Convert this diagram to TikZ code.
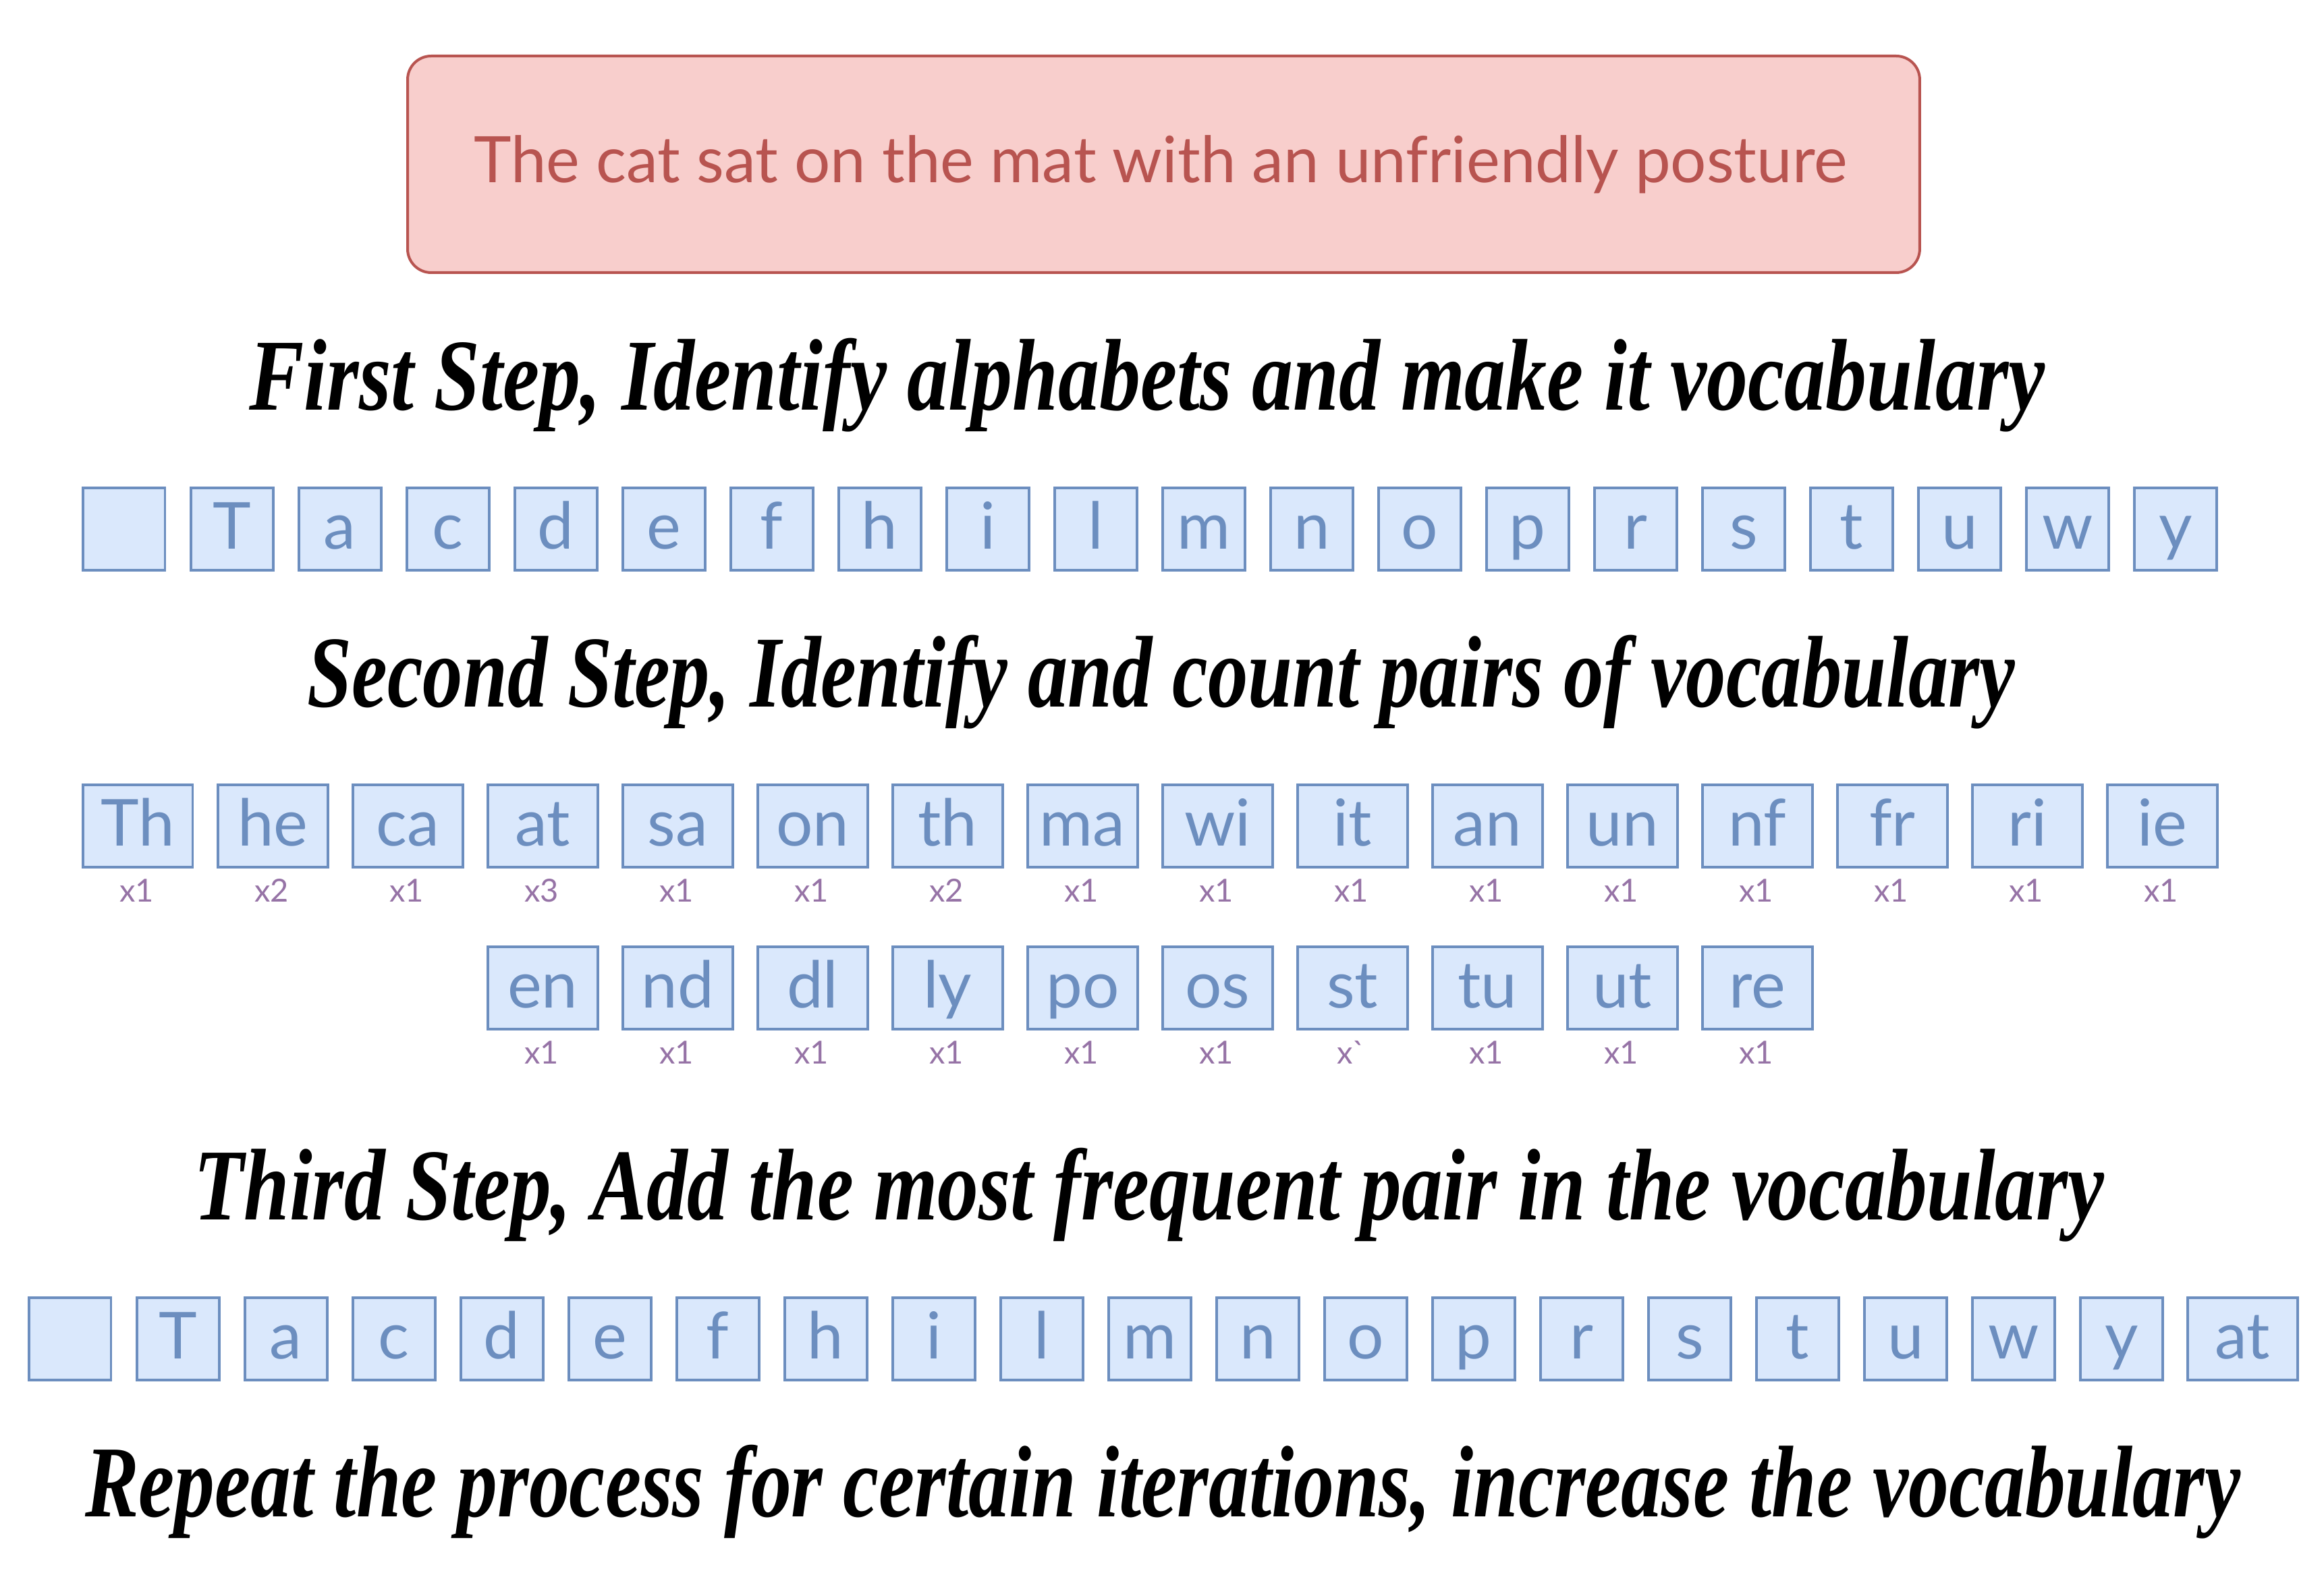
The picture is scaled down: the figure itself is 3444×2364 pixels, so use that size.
\documentclass[tikz,border=0pt]{standalone}
\usepackage{fontspec}
\setmainfont{Lato}
\newfontfamily\headf{Liberation Serif}
\usepackage{graphicx}
\definecolor{rfill}{HTML}{F8CECC}
\definecolor{rdraw}{HTML}{B85450}
\definecolor{bfill}{HTML}{DAE8FC}
\definecolor{bdraw}{HTML}{6C8EBF}
\definecolor{ptxt}{HTML}{9673A6}
\begin{document}
\begin{tikzpicture}[x=0.1pt,y=-0.1pt,
 tok/.style={draw=bdraw, fill=bfill, line width=0.35pt, inner sep=0pt, text=bdraw,
   font=\fontsize{9.6}{11}\selectfont, text height=9.1pt, text depth=3.1pt,
   minimum width=#1, anchor=north west},
 tok/.default=12.2pt,
 cnt/.style={text=ptxt, font=\fontsize{4.7}{5}\selectfont, inner sep=0pt, anchor=base},
 head/.style={font=\headf\bfseries\itshape\fontsize{15.1}{17}\selectfont, inner sep=0pt, anchor=base}]
\useasboundingbox[fill=white] (0,0) rectangle (3444,2364);

% source sentence
\node[draw=rdraw, fill=rfill, line width=0.4pt, rounded corners=3.5pt,
  minimum width=224.1pt, minimum height=32.1pt, inner sep=0pt, anchor=north west] (src) at (602,81) {};
\node[text=rdraw, font=\fontsize{9.5}{11}\selectfont, inner sep=0pt, anchor=base] (srctext) at (1720,271)
  {\resizebox{203.5pt}{\height}{The cat sat on the mat with an unfriendly posture}};

% headings
\node[head] (h1) at (1700,607) {\resizebox{266.1pt}{\height}{First Step, Identify alphabets and make it vocabulary}};
\node[head] (h2) at (1721,1047) {\resizebox{253.1pt}{\height}{Second Step, Identify and count pairs of vocabulary}};
\node[head] (h3) at (1703,1807) {\resizebox{283.1pt}{\height}{Third Step, Add the most frequent pair in the vocabulary}};
\node[head] (h4) at (1723,2247) {\resizebox{319.4pt}{\height}{Repeat the process for certain iterations, increase the vocabulary}};

% row 1: alphabet
\node[tok] (r1-0) at (121,721) {};
\foreach \t [count=\i] in {T,a,c,d,e,f,h,i,l,m,n,o,p,r,s,t,u,w,y}
  \node[tok] (r1-\i) at (121+160*\i,721) {\t};

% row 2: pairs
\foreach \t/\c [count=\i from 0] in {Th/x1,he/x2,ca/x1,at/x3,sa/x1,on/x1,th/x2,ma/x1,wi/x1,it/x1,an/x1,un/x1,nf/x1,fr/x1,ri/x1,ie/x1}{
  \node[tok=16.3pt] (r2-\i) at (121+200*\i,1161) {\t};
  \node[cnt] (c2-\i) at (202.5+200*\i,1336) {\c};
}

% row 3: pairs
\foreach \t/\c [count=\i from 0] in {en/x1,nd/x1,dl/x1,ly/x1,po/x1,os/x1,st/x\textasciigrave,tu/x1,ut/x1,re/x1}{
  \node[tok=16.3pt] (r3-\i) at (721+200*\i,1401) {\t};
  \node[cnt] (c3-\i) at (802.5+200*\i,1576) {\c};
}

% row 4: updated vocabulary
\node[tok] (r4-0) at (41,1921) {};
\foreach \t [count=\i] in {T,a,c,d,e,f,h,i,l,m,n,o,p,r,s,t,u,w,y}
  \node[tok] (r4-\i) at (41+160*\i,1921) {\t};
\node[tok=16.3pt] (r4-20) at (3240,1921) {at};
\end{tikzpicture}
\end{document}
